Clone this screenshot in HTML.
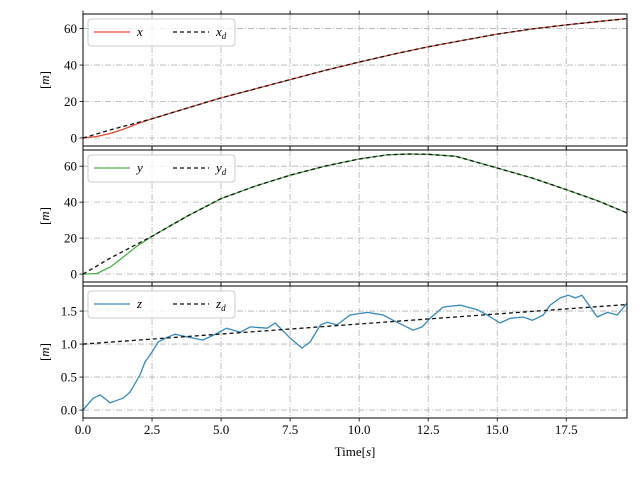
<!DOCTYPE html>
<html><head><meta charset="utf-8"><style>
body{margin:0;background:#fff}
svg text{font-family:"Liberation Serif",serif;font-size:13px;fill:#000}
</style></head><body>
<svg id="c" width="640" height="480" viewBox="0 0 640 480"></svg>
<script>
const times=[0,1,2.5,3.75,5,6.25,7.5,8.75,10,11.25,12.5,13.75,15,16.25,17.5,18.6,19.7];
const xdVals=[0,4.5,10.5,16.3,22,27,32,37,41.6,46,50,53.5,57,59.8,62,63.8,65.5];
const xTimes=[0,0.5,1,1.5,2,2.5,3.75,5,6.25,7.5,8.75,10,11.25,12.5,13.75,15,16.25,17.5,18.6,19.7];
const xVals=[0,0.8,2.5,5,8,10.5,16.3,22,27,32,37,41.6,46,50,53.5,57,59.8,62,63.8,65.5];
const ydTimes=[0,1,2.5,3.75,5,6.25,7.5,8.75,10,11,11.8,12.5,13.5,15,16.25,17.5,18.6,19.7];
const ydVals=[0,9,21,32,42,49,55,60,64,66.3,66.8,66.6,65.5,59,53.5,47,41,34];
const yTimes=[0,0.5,1,1.5,2,2.5,3.75,5,6.25,7.5,8.75,10,11,11.8,12.5,13.5,15,16.25,17.5,18.6,19.7];
const yVals=[0,0.3,4,10,16,21,32,42,49,55,60,64,66.3,66.8,66.6,65.5,59,53.5,47,41,34];
const zTimes=[0,0.37,0.62,0.98,1.45,1.7,2.06,2.25,2.5,2.72,3.04,3.33,3.88,4.35,4.85,5.2,5.7,6.05,6.67,6.96,7.5,7.93,8.22,8.6,8.84,9.2,9.67,10.3,10.87,11.23,11.96,12.28,12.57,13.04,13.66,14.28,14.64,15.1,15.47,15.94,16.27,16.67,16.92,17.28,17.57,17.83,18.07,18.62,18.99,19.35,19.7];
const zVals=[0,0.18,0.23,0.11,0.18,0.27,0.53,0.73,0.88,1.03,1.1,1.15,1.1,1.06,1.16,1.24,1.18,1.26,1.24,1.32,1.09,0.94,1.03,1.29,1.33,1.29,1.44,1.48,1.44,1.36,1.21,1.26,1.39,1.56,1.59,1.52,1.44,1.32,1.39,1.41,1.36,1.44,1.59,1.70,1.74,1.70,1.74,1.41,1.48,1.44,1.62];
const zdTimes=[0,19.7];
const zdVals=[1.0,1.6];
const xTicks=[0,2.5,5,7.5,10,12.5,15,17.5];
const xTickLabels=["0.0","2.5","5.0","7.5","10.0","12.5","15.0","17.5"];
const posTicks=[0,20,40,60];
const zTicks=[0,0.5,1.0,1.5];
const zTickLabels=["0.0","0.5","1.0","1.5"];

const NS="http://www.w3.org/2000/svg";
const svg=document.getElementById('c');
const L=83,R=627,TMAX=19.7;
const sx=t=>L+t/TMAX*(R-L);
function mk(tag,attrs,parent){const e=document.createElementNS(NS,tag);for(const k in attrs)e.setAttribute(k,attrs[k]);(parent||svg).appendChild(e);return e;}

const panels=[
 {top:14,bot:146,min:-4.4,max:68,ticks:posTicks,labels:posTicks.map(String),name:'x',
  series:[{t:xTimes,v:xVals,c:'#e24a33',d:null,n:'x-line'},{t:times,v:xdVals,c:'#111',d:'4,3',n:'xd-line'}],
  leg:['x','x','d']},
 {top:150,bot:282,min:-4.4,max:69,ticks:posTicks,labels:posTicks.map(String),name:'y',
  series:[{t:yTimes,v:yVals,c:'#4daf4a',d:null,n:'y-line'},{t:ydTimes,v:ydVals,c:'#111',d:'4,3',n:'yd-line'}],
  leg:['y','y','d']},
 {top:286,bot:418,min:-0.12,max:1.88,ticks:zTicks,labels:zTickLabels,name:'z',
  series:[{t:zTimes,v:zVals,c:'#348abd',d:null,n:'z-line'},{t:zdTimes,v:zdVals,c:'#111',d:'4,3',n:'zd-line'}],
  leg:['z','z','d']}
];
panels.forEach((p,i)=>{
 const sy=v=>p.bot-(v-p.min)/(p.max-p.min)*(p.bot-p.top);
 const g=mk('g',{});
 
 
 xTicks.forEach(t=>{const ln=mk('line',{x1:sx(t),x2:sx(t),y1:p.top,y2:p.bot,stroke:'#b0b0b0','stroke-dasharray':'6,2,1,2','stroke-width':0.8},g);
  
  mk('line',{x1:sx(t),x2:sx(t),y1:p.bot,y2:p.bot+3.5,stroke:'#000','stroke-width':0.8},g);
  mk('line',{x1:sx(t),x2:sx(t),y1:p.top,y2:p.top-3.5,stroke:'#000','stroke-width':0.8},g);});
 p.ticks.forEach((v,k)=>{const y=sy(v);
  const ln=mk('line',{x1:L,x2:R,y1:y,y2:y,stroke:'#b0b0b0','stroke-dasharray':'6,2,1,2','stroke-width':0.8},g);
  
  mk('line',{x1:L-3.5,x2:L,y1:y,y2:y,stroke:'#000','stroke-width':0.8},g);
  const tx=mk('text',{x:L-6,y:y+4.5,'text-anchor':'end'},g);tx.textContent=p.labels[k];
  });
 p.series.forEach(s=>{
  const pts=s.t.map((t,k)=>sx(t).toFixed(1)+','+sy(s.v[k]).toFixed(1)).join(' ');
  const a={points:pts,fill:'none',stroke:s.c,'stroke-width':1.3,'stroke-linejoin':'round'};if(s.d)a['stroke-dasharray']=s.d;
  const pl=mk('polyline',a,g);});
 mk('rect',{x:L,y:p.top,width:R-L,height:p.bot-p.top,fill:'none',stroke:'#000','stroke-width':1},g);
 const yl=mk('text',{x:0,y:0,transform:`translate(49,${(p.top+p.bot)/2}) rotate(-90)`,'text-anchor':'middle'},g);
 yl.innerHTML='[<tspan font-style="italic">m</tspan>]';
 
 const lg=mk('g',{},g);
 mk('rect',{x:88,y:p.top+5,width:147,height:27,rx:3,fill:'#fff','fill-opacity':0.8,stroke:'#ccc'},lg);
 const ym=p.top+18;
 mk('line',{x1:94,x2:130,y1:ym,y2:ym,stroke:p.series[0].c,'stroke-width':1.3},lg);
 const t1=mk('text',{x:137,y:ym+4,'font-style':'italic'},lg);t1.textContent=p.leg[0];
 
 mk('line',{x1:173,x2:209,y1:ym,y2:ym,stroke:'#111','stroke-width':1.3,'stroke-dasharray':'4,3'},lg);
 const t2=mk('text',{x:216,y:ym+4,'font-style':'italic'},lg);t2.innerHTML=p.leg[1]+'<tspan font-size="9" dy="3">'+p.leg[2]+'</tspan>';
 
});
xTicks.forEach((t,k)=>{const tx=mk('text',{x:sx(t),y:434,'text-anchor':'middle'});tx.textContent=xTickLabels[k];
 });
const xt=mk('text',{x:355,y:456,'text-anchor':'middle'});xt.innerHTML='Time[<tspan font-style="italic">s</tspan>]';

</script>
</body></html>
